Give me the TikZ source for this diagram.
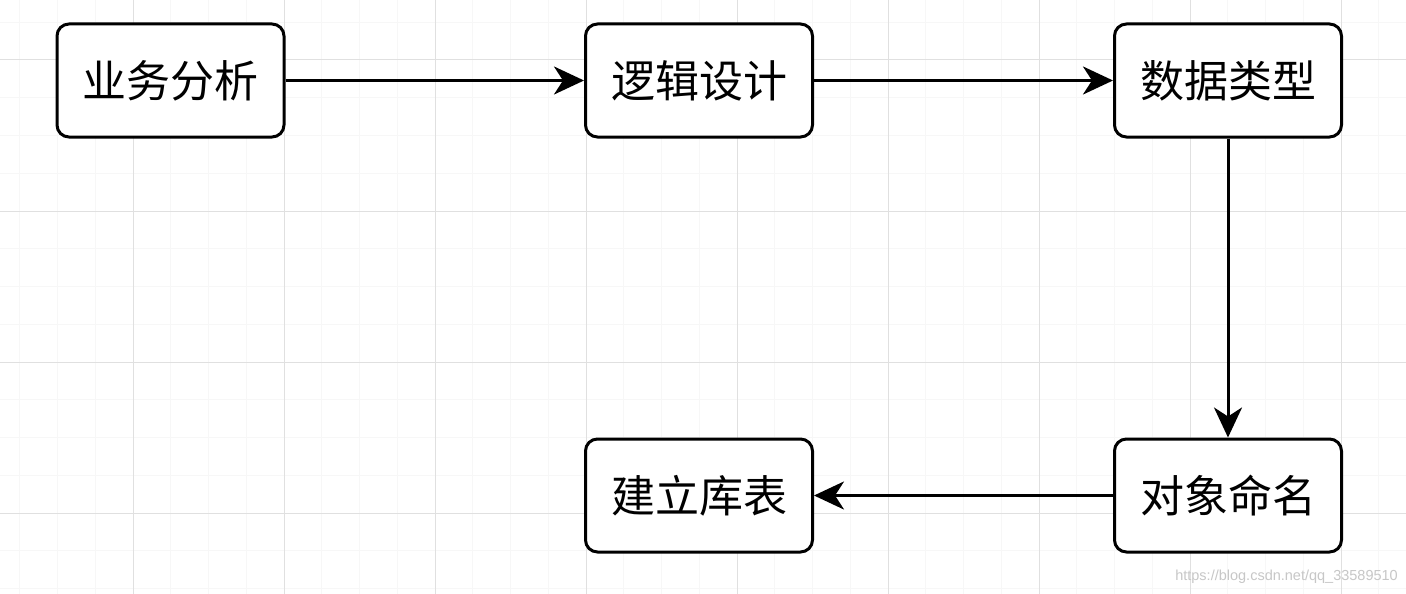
\documentclass[tikz,border=0pt]{standalone}
\usepackage{fontspec}
\newfontfamily\cjk{Noto Sans CJK SC}
\setsansfont{Liberation Sans}
\usetikzlibrary{arrows.meta}
\begin{document}
\begin{tikzpicture}[x=1pt,y=-1pt,
  box/.style={draw=black,line width=3pt,rounded corners=12pt,fill=white,minimum width=227pt,minimum height=113pt,inner sep=0pt,font=\cjk\fontsize{44}{48}\selectfont},
  conn/.style={line width=3pt,-{Stealth[length=30pt,width=28pt,inset=9pt]}}]
\useasboundingbox (0,0) rectangle (1406,594);
\fill[white] (0,0) rectangle (1406,594);
\foreach \i in {0,...,37} {\draw[black!3,line width=1pt] (19.75+\i*37.75,0) -- (19.75+\i*37.75,594);}
\foreach \i in {0,...,15} {\draw[black!3,line width=1pt] (0,22.25+\i*37.75) -- (1406,22.25+\i*37.75);}
\foreach \i in {0,...,9} {\draw[black!12,line width=1pt] (133+\i*151,0) -- (133+\i*151,594);}
\foreach \i in {0,...,3} {\draw[black!12,line width=1pt] (0,60+\i*151) -- (1406,60+\i*151);}
\node[box] (a) at (170.5,80.5) {业务分析};
\node[box] (b) at (699,80.5) {逻辑设计};
\node[box] (c) at (1228,80.5) {数据类型};
\node[box] (d) at (1228,495.5) {对象命名};
\node[box] (e) at (699,495.5) {建立库表};
\draw[conn] (a) -- (b);
\draw[conn] (b) -- (c);
\draw[conn] (c) -- (d);
\draw[conn] (d) -- (e);
\node[anchor=south east,text=black!22,font=\sffamily\fontsize{14.5}{15}\selectfont,inner sep=0pt] (w) at (1398,584) {https://blog.csdn.net/qq\_33589510};
\end{tikzpicture}
\end{document}
